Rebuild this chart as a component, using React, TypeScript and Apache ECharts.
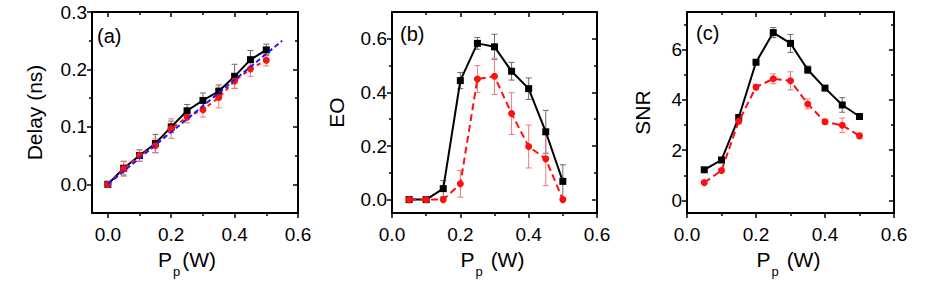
import React, { useEffect, useRef } from "react";
import * as echarts from "echarts";

const FONT = '"Liberation Sans", Arial, sans-serif';

// ---------- data ----------
const xDelay = [0, 0.05, 0.1, 0.15, 0.2, 0.25, 0.3, 0.35, 0.4, 0.45, 0.5];
const delayBlack = [0, 0.028, 0.05, 0.071, 0.1, 0.128, 0.146, 0.162, 0.188, 0.217, 0.234];
const delayBlackErr = [0, 0.012, 0.01, 0.016, 0.01, 0.011, 0.013, 0.011, 0.021, 0.016, 0.01];
const delayRed = [0, 0.027, 0.05, 0.067, 0.097, 0.117, 0.13, 0.151, 0.18, 0.201, 0.216];
const delayRedErr = [0, 0.013, 0.01, 0.012, 0.017, 0.01, 0.013, 0.018, 0.013, 0.013, 0.01];
const fitX = [0, 0.55];
const fitY = [0, 0.25];

const xP = [0.05, 0.1, 0.15, 0.2, 0.25, 0.3, 0.35, 0.4, 0.45, 0.5];
const eoBlack = [0, 0, 0.041, 0.444, 0.583, 0.57, 0.479, 0.414, 0.253, 0.068];
const eoBlackErr = [0, 0, 0.03, 0.03, 0.022, 0.047, 0.033, 0.04, 0.08, 0.062];
const eoRed = [0, 0, 0, 0.059, 0.45, 0.46, 0.321, 0.198, 0.152, 0];
const eoRedErr = [0, 0, 0, 0.05, 0.05, 0.068, 0.078, 0.08, 0.1, 0];

const snrBlack = [1.22, 1.61, 3.3, 5.5, 6.68, 6.25, 5.2, 4.47, 3.8, 3.34];
const snrBlackErr = [0.05, 0.08, 0.08, 0.08, 0.2, 0.36, 0.15, 0.08, 0.29, 0.1];
const snrRed = [0.71, 1.19, 3.15, 4.51, 4.84, 4.76, 3.84, 3.13, 2.99, 2.57];
const snrRedErr = [0.05, 0.08, 0.1, 0.1, 0.2, 0.36, 0.2, 0.1, 0.29, 0.1];

// tick values
const xMajor = [0, 0.2, 0.4, 0.6];
const xMinor = [0.1, 0.3, 0.5];
const yMajorA = [0, 0.1, 0.2, 0.3];
const yMinorA = [0.05, 0.15, 0.25];
const yMajorB = [0, 0.2, 0.4, 0.6];
const yMinorB = [0.1, 0.3, 0.5];
const yMajorC = [0, 2, 4, 6];
const yMinorC = [1, 3, 5, 7];

const panelLabels = ["(a)", "(b)", "(c)"];
const yNames = ["Delay (ns)", "EO", "SNR"];
const xNames = ["{m|P}{s|p}{m|(W)}", "{m|P}{s|p}{m| (W)}", "{m|P}{s|p}{m| (W)}"];

const BLACK = "#000000";
const RED = "#ff1010";
const BLUE = "#1a1aff";
const BLACK_ERR = "#6a6a6a";
const RED_ERR = "#f07a7a";

type PanelCfg = {
  rect: { left: number; top: number; width: number; height: number };
  xMin: number; xMax: number; yMin: number; yMax: number;
  yMajor: number[]; yMinor: number[]; yDigits: number; yNameGap: number;
  labelLeft: number; labelTop: number;
};

const panels: PanelCfg[] = [
  { rect: { left: 92, top: 12, width: 206, height: 201 }, xMin: -0.05, xMax: 0.6, yMin: -0.05, yMax: 0.3,
    yMajor: yMajorA, yMinor: yMinorA, yDigits: 1, yNameGap: 47, labelLeft: 97, labelTop: 26 },
  { rect: { left: 392, top: 12, width: 205, height: 201 }, xMin: 0, xMax: 0.6, yMin: -0.05, yMax: 0.7,
    yMajor: yMajorB, yMinor: yMinorB, yDigits: 1, yNameGap: 45, labelLeft: 400, labelTop: 24 },
  { rect: { left: 687, top: 12, width: 207, height: 201 }, xMin: 0, xMax: 0.6, yMin: -0.5, yMax: 7.5,
    yMajor: yMajorC, yMinor: yMinorC, yDigits: 0, yNameGap: 34, labelLeft: 696, labelTop: 23 },
];

function axisBase(min: number, max: number, gridIndex: number, position: string, showLine: boolean) {
  return {
    type: "value",
    gridIndex,
    position,
    min,
    max,
    splitLine: { show: false },
    axisLine: { show: showLine, onZero: false, lineStyle: { color: "#000", width: 2 } },
    axisLabel: { show: false },
    axisTick: { show: false },
  };
}

function ticks(values: number[], inside: boolean, length: number) {
  return { show: true, customValues: values, inside, length, lineStyle: { color: "#000", width: 1.5 } };
}

function errSeries(xs: number[], ys: number[], es: number[], color: string, axisIdx: number) {
  return {
    type: "custom",
    xAxisIndex: axisIdx,
    yAxisIndex: axisIdx,
    z: 1,
    silent: true,
    encode: { x: 0, y: 1 },
    data: xs.map((x, i) => [x, ys[i], es[i]]),
    renderItem: (params: any, api: any) => {
      const x = api.value(0);
      const y = api.value(1);
      const e = api.value(2);
      if (!e) return null;
      const top = api.coord([x, y + e]);
      const bot = api.coord([x, y - e]);
      const hw = 3;
      const style = { stroke: color, lineWidth: 1, fill: null };
      return {
        type: "group",
        children: [
          { type: "line", shape: { x1: top[0], y1: top[1], x2: bot[0], y2: bot[1] }, style },
          { type: "line", shape: { x1: top[0] - hw, y1: top[1], x2: top[0] + hw, y2: top[1] }, style },
          { type: "line", shape: { x1: bot[0] - hw, y1: bot[1], x2: bot[0] + hw, y2: bot[1] }, style },
        ],
      };
    },
  };
}

function lineSeries(xs: number[], ys: number[], color: string, dashed: boolean | number[], symbol: string, size: number, axisIdx: number, z: number) {
  return {
    type: "line",
    xAxisIndex: axisIdx,
    yAxisIndex: axisIdx,
    z,
    data: xs.map((x, i) => [x, ys[i]]),
    symbol,
    symbolSize: size,
    showSymbol: symbol !== "none",
    itemStyle: { color, borderWidth: 0 },
    lineStyle: { color, width: 2, type: dashed === false ? "solid" : dashed === true ? [7, 4] : dashed },
    silent: true,
  };
}

export default function App() {
  const ref = useRef<HTMLDivElement>(null);
  useEffect(() => {
    if (!ref.current) return;
    const chart = echarts.init(ref.current, undefined, { renderer: "svg" });

    const grid: any[] = [];
    const xAxis: any[] = [];
    const yAxis: any[] = [];
    const graphic: any[] = [];

    panels.forEach((p, k) => {
      grid.push({ ...p.rect, outerBoundsMode: "none", containLabel: false });
      grid.push({ ...p.rect, outerBoundsMode: "none", containLabel: false });
      const gMain = 2 * k;
      const gMinor = 2 * k + 1;
      // x axes
      xAxis.push({
        ...axisBase(p.xMin, p.xMax, gMain, "bottom", true),
        axisTick: ticks(xMajor, false, 5),
        axisLabel: {
          show: true, customValues: xMajor, formatter: (v: number) => v.toFixed(1),
          fontSize: 19, fontFamily: FONT, color: "#000", margin: 12,
        },
        name: xNames[k],
        nameLocation: "middle",
        nameGap: 26,
        nameTextStyle: {
          fontFamily: FONT, color: "#000", fontSize: 21,
          padding: k === 0 ? [0, 16, 0, 0] : [0, 4, 0, 0],
          rich: {
            m: { fontSize: 21, fontFamily: FONT, color: "#000" },
            s: { fontSize: 13, fontFamily: FONT, color: "#000", padding: [24, 2, 0, 1] },
          },
        },
      });
      xAxis.push({ ...axisBase(p.xMin, p.xMax, gMain, "top", true), axisTick: ticks(xMajor, true, 5) });
      xAxis.push({ ...axisBase(p.xMin, p.xMax, gMinor, "bottom", false), axisTick: ticks(xMinor, false, 3) });
      xAxis.push({ ...axisBase(p.xMin, p.xMax, gMinor, "top", false), axisTick: ticks(xMinor, true, 3) });
      // y axes
      yAxis.push({
        ...axisBase(p.yMin, p.yMax, gMain, "left", true),
        axisTick: ticks(p.yMajor, false, 5),
        axisLabel: {
          show: true, customValues: p.yMajor, formatter: (v: number) => v.toFixed(p.yDigits),
          fontSize: 19, fontFamily: FONT, color: "#000", margin: 5,
        },
        name: yNames[k],
        nameLocation: "middle",
        nameGap: p.yNameGap,
        nameTextStyle: { fontFamily: FONT, color: "#000", fontSize: 21 },
      });
      yAxis.push({ ...axisBase(p.yMin, p.yMax, gMain, "right", true), axisTick: ticks(p.yMajor, true, 5) });
      yAxis.push({ ...axisBase(p.yMin, p.yMax, gMinor, "left", false), axisTick: ticks(p.yMinor, false, 3) });
      yAxis.push({ ...axisBase(p.yMin, p.yMax, gMinor, "right", false), axisTick: ticks(p.yMinor, true, 3) });

      graphic.push({
        type: "text",
        left: p.labelLeft,
        top: p.labelTop,
        style: { text: panelLabels[k], fontSize: 20, fontFamily: FONT, fill: "#000" },
      });
    });

    const series: any[] = [
      // panel a
      errSeries(xDelay, delayBlack, delayBlackErr, BLACK_ERR, 0),
      errSeries(xDelay, delayRed, delayRedErr, RED_ERR, 0),
      lineSeries(xDelay, delayBlack, BLACK, false, "rect", 7, 0, 2),
      lineSeries(xDelay, delayRed, RED, [4, 4], "circle", 7, 0, 3),
      lineSeries(fitX, fitY, BLUE, [5, 3], "none", 0, 0, 4),
      // panel b
      errSeries(xP, eoBlack, eoBlackErr, BLACK_ERR, 4),
      errSeries(xP, eoRed, eoRedErr, RED_ERR, 4),
      lineSeries(xP, eoBlack, BLACK, false, "rect", 7, 4, 2),
      lineSeries(xP, eoRed, RED, true, "circle", 7, 4, 3),
      // panel c
      errSeries(xP, snrBlack, snrBlackErr, BLACK_ERR, 8),
      errSeries(xP, snrRed, snrRedErr, RED_ERR, 8),
      lineSeries(xP, snrBlack, BLACK, false, "rect", 7, 8, 2),
      lineSeries(xP, snrRed, RED, true, "circle", 7, 8, 3),
    ];

    chart.setOption({
      animation: false,
      backgroundColor: "#ffffff",
      textStyle: { fontFamily: FONT },
      grid,
      xAxis,
      yAxis,
      series,
      graphic,
    });
    return () => chart.dispose();
  }, []);

  return (
    <div
      ref={ref}
      style={{ position: "fixed", left: 0, top: 0, width: 942, height: 283, background: "#fff" }}
    />
  );
}
